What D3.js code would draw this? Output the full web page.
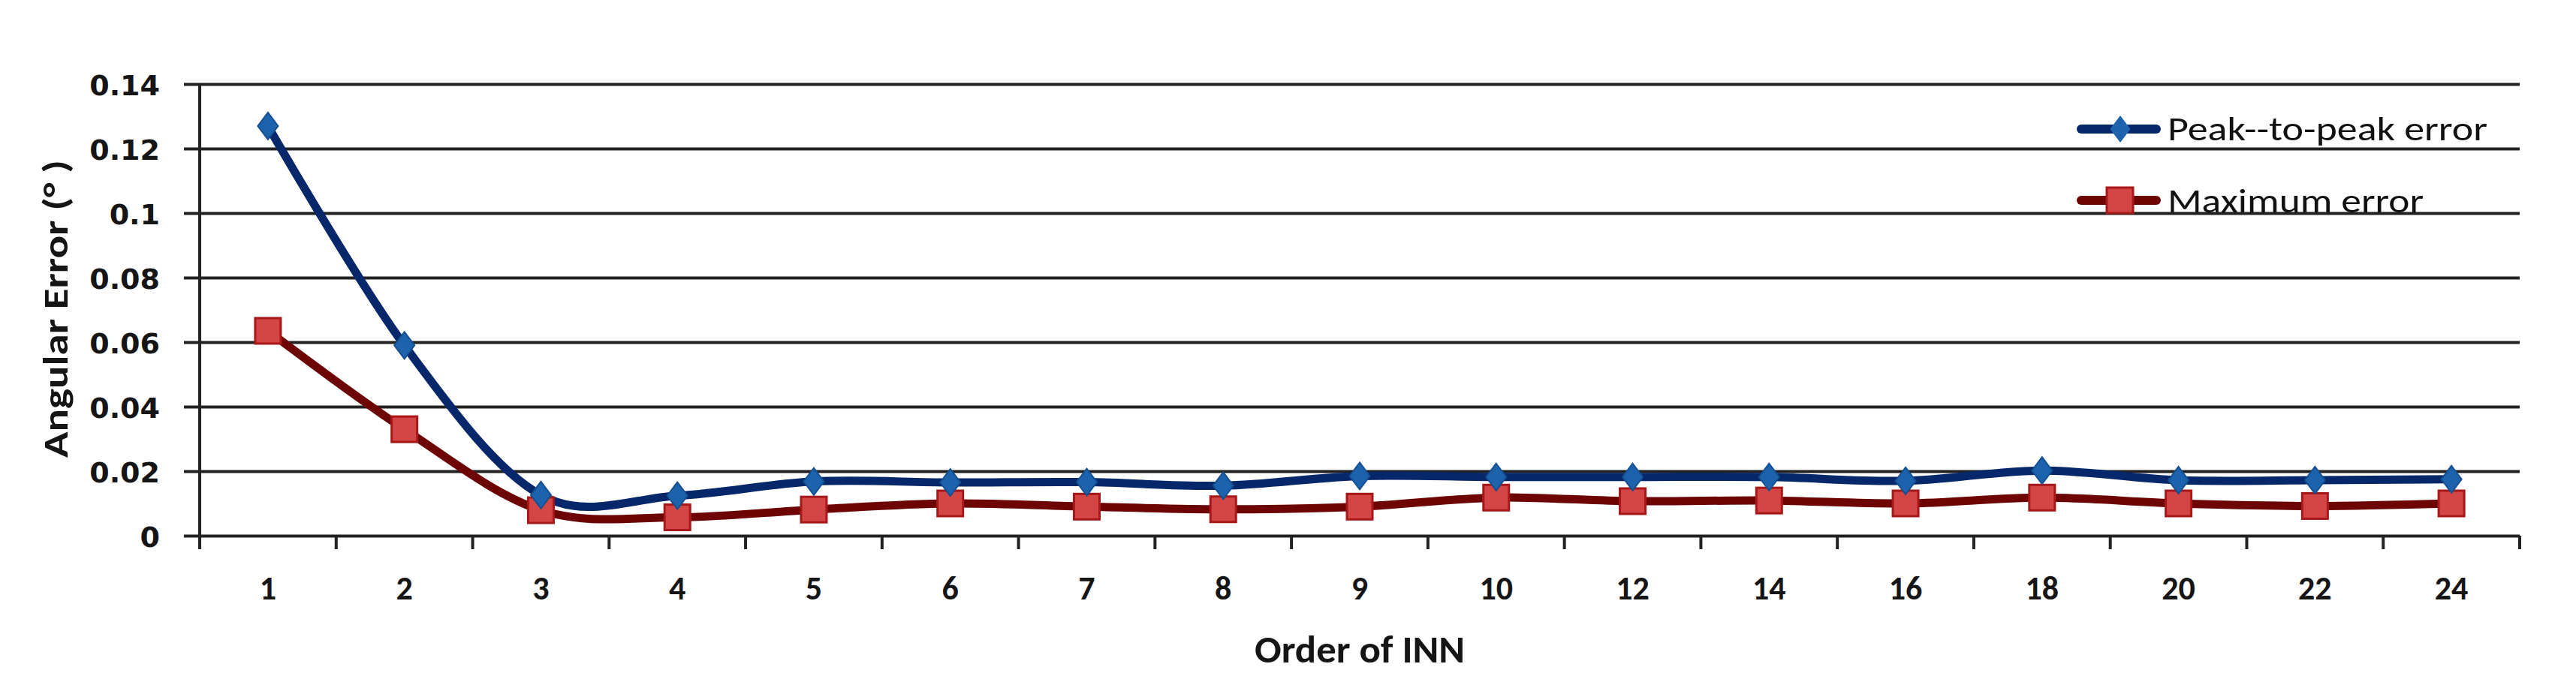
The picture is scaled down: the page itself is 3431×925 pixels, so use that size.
<!DOCTYPE html>
<html><head><meta charset="utf-8">
<script src="https://cdn.jsdelivr.net/npm/d3@7"></script>
<style>body{margin:0;background:#fff}svg{display:block}</style>
</head><body>
<svg id="c" width="3431" height="925"></svg>
<script>
const categories = ["1","2","3","4","5","6","7","8","9","10","12","14","16","18","20","22","24"];
const peakToPeak = [0.127,0.059,0.0126,0.0124,0.0168,0.0165,0.0166,0.0155,0.0185,0.0182,0.0182,0.0182,0.0170,0.0202,0.0172,0.0172,0.0175];
const maxError   = [0.0635,0.033,0.0079,0.0057,0.0081,0.0100,0.0090,0.0082,0.0090,0.0118,0.0107,0.0109,0.0100,0.0118,0.0100,0.0092,0.0100];
const yTicks = [0,0.02,0.04,0.06,0.08,0.1,0.12,0.14];
const seriesNames = ["Peak--to-peak error","Maximum error"];

const svg = d3.select("#c");
const L=266, R=3356, T=112, B=714;
const x = d3.scaleBand().domain(categories).range([L,R]);
const y = d3.scaleLinear().domain([0,0.14]).range([B,T]);
const FONT = "Carlito,Lato,sans-serif";

// gridlines + y labels
const ya = svg.append("g").attr("transform",`translate(${L-21},0)`)
  .call(d3.axisLeft(y).tickValues(yTicks).tickFormat(d=>String(+d.toFixed(2))).tickSize(-(R-L+21)).tickPadding(32));
ya.select(".domain").remove();
ya.selectAll(".tick line").attr("stroke","#222").attr("stroke-width",4);
ya.selectAll(".tick text").attr("font-family","'DejaVu Sans',Verdana,sans-serif").attr("font-weight","bold")
  .attr("font-size",38).attr("fill","#151515").attr("dy","0.38em");

// y axis line
svg.append("line").attr("x1",L).attr("x2",L).attr("y1",T).attr("y2",B+18).attr("stroke","#222").attr("stroke-width",4);

// x axis boundary ticks
const bounds = categories.map(c=>x(c)).concat([x(categories[categories.length-1])+x.bandwidth()]);
svg.append("g").selectAll("line").data(bounds).join("line")
  .attr("x1",d=>d).attr("x2",d=>d).attr("y1",B).attr("y2",B+18).attr("stroke","#222").attr("stroke-width",4);

// x labels
const xa = svg.append("g").attr("transform",`translate(0,${B})`)
  .call(d3.axisBottom(x).tickSize(0).tickPadding(54));
xa.select(".domain").remove();
xa.selectAll(".tick text").attr("font-family",FONT).attr("font-weight","bold")
  .attr("font-size",44).attr("fill","#151515");

// axis titles
svg.append("text").attr("x",(L+R)/2).attr("y",883).attr("text-anchor","middle")
  .attr("font-family",FONT).attr("font-weight","bold").attr("font-size",50).attr("fill","#151515")
  .attr("textLength",280).attr("lengthAdjust","spacingAndGlyphs")
  .text("Order of INN");
svg.append("text").attr("transform",`translate(90,${(213+610)/2}) rotate(-90)`).attr("text-anchor","middle")
  .attr("font-family",FONT).attr("font-weight","bold").attr("font-size",47).attr("fill","#151515")
  .attr("textLength",397).attr("lengthAdjust","spacingAndGlyphs")
  .text("Angular Error (° )");

const cx = (d,i)=>x(categories[i])+x.bandwidth()/2;
const line = d3.line().x(cx).y(d=>y(d)).curve(d3.curveCardinal.tension(0));

svg.append("path").datum(maxError).attr("d",line).attr("fill","none").attr("stroke","#6e0505").attr("stroke-width",11);
svg.append("path").datum(peakToPeak).attr("d",line).attr("fill","none").attr("stroke","#07276b").attr("stroke-width",11);

const diamond = (h,w)=>`M0,${-h/2} L${w/2},0 L0,${h/2} L${-w/2},0 Z`;
svg.append("g").selectAll("rect").data(maxError).join("rect")
  .attr("x",(d,i)=>cx(d,i)-17).attr("y",d=>y(d)-17).attr("width",34).attr("height",34)
  .attr("fill","#d44545").attr("stroke","#a81818").attr("stroke-width",3);
svg.append("g").selectAll("path").data(peakToPeak).join("path")
  .attr("transform",(d,i)=>`translate(${cx(d,i)},${y(d)})`).attr("d",diamond(36,27))
  .attr("fill","#1c62ad").attr("stroke","#14508f").attr("stroke-width",2);

// legend
const legY = [172, 267];
const legText = [[187,426],[283,341]];
const legColors = [["#07276b","#1c62ad"],["#6e0505","#d44545"]];
seriesNames.forEach((n,k)=>{
  const g = svg.append("g");
  g.append("line").attr("x1",2772).attr("x2",2872).attr("y1",legY[k]).attr("y2",legY[k])
    .attr("stroke",legColors[k][0]).attr("stroke-width",12).attr("stroke-linecap","round");
  if(k===0) g.append("path").attr("transform",`translate(2824,${legY[k]})`).attr("d",diamond(36,27)).attr("fill",legColors[k][1]);
  else g.append("rect").attr("x",2806).attr("y",legY[k]-17).attr("width",35).attr("height",34)
    .attr("fill",legColors[k][1]).attr("stroke","#a81818").attr("stroke-width",3);
  g.append("text").attr("x",2887).attr("y",legText[k][0]).attr("font-family",FONT).attr("font-size",46)
    .attr("fill","#111").attr("textLength",legText[k][1]).attr("lengthAdjust","spacingAndGlyphs").text(n);
});
</script>
</body></html>
